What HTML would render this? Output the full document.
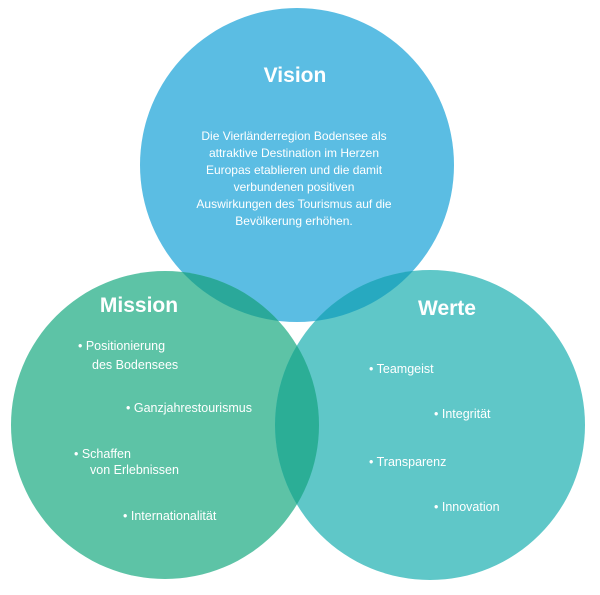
<!DOCTYPE html>
<html><head><meta charset="utf-8"><style>
body{margin:0;background:#fff;}
svg{display:block}
text{font-family:"Liberation Sans","DejaVu Sans",sans-serif;fill:#fff}
</style></head><body>
<svg width="600" height="595" viewBox="0 0 600 595">
<defs>
<clipPath id="cm"><circle cx="165" cy="425" r="154"/></clipPath>
<clipPath id="cw"><circle cx="430" cy="425" r="155"/></clipPath>
</defs>
<circle cx="297" cy="165" r="157" fill="#5bbde3"/>
<circle cx="165" cy="425" r="154" fill="#5dc3a6"/>
<circle cx="430" cy="425" r="155" fill="#5fc7c8"/>
<circle cx="297" cy="165" r="157" fill="#2aa89a" clip-path="url(#cm)"/>
<circle cx="297" cy="165" r="157" fill="#27a9c0" clip-path="url(#cw)"/>
<g clip-path="url(#cw)"><circle cx="165" cy="425" r="154" fill="#2bae96"/></g>
<text x="295" y="82" font-size="21" font-weight="bold" text-anchor="middle">Vision</text>
<g font-size="12" text-anchor="middle">
<text x="294" y="140">Die Vierländerregion Bodensee als</text>
<text x="294" y="157">attraktive Destination im Herzen</text>
<text x="294" y="174">Europas etablieren und die damit</text>
<text x="294" y="191">verbundenen positiven</text>
<text x="294" y="208">Auswirkungen des Tourismus auf die</text>
<text x="294" y="225">Bevölkerung erhöhen.</text>
</g>
<text x="139" y="312" font-size="21" font-weight="bold" text-anchor="middle">Mission</text>
<text x="447" y="315" font-size="21" font-weight="bold" text-anchor="middle">Werte</text>
<g font-size="12.5">
<text x="78" y="350">•  Positionierung</text>
<text x="92" y="369">des Bodensees</text>
<text x="126" y="412">•  Ganzjahrestourismus</text>
<text x="74" y="458">•  Schaffen</text>
<text x="90" y="474">von  Erlebnissen</text>
<text x="123" y="520">•  Internationalität</text>
<text x="369" y="373">•  Teamgeist</text>
<text x="434" y="418">•  Integrität</text>
<text x="369" y="466">•  Transparenz</text>
<text x="434" y="511">•  Innovation</text>
</g>
</svg>
</body></html>
